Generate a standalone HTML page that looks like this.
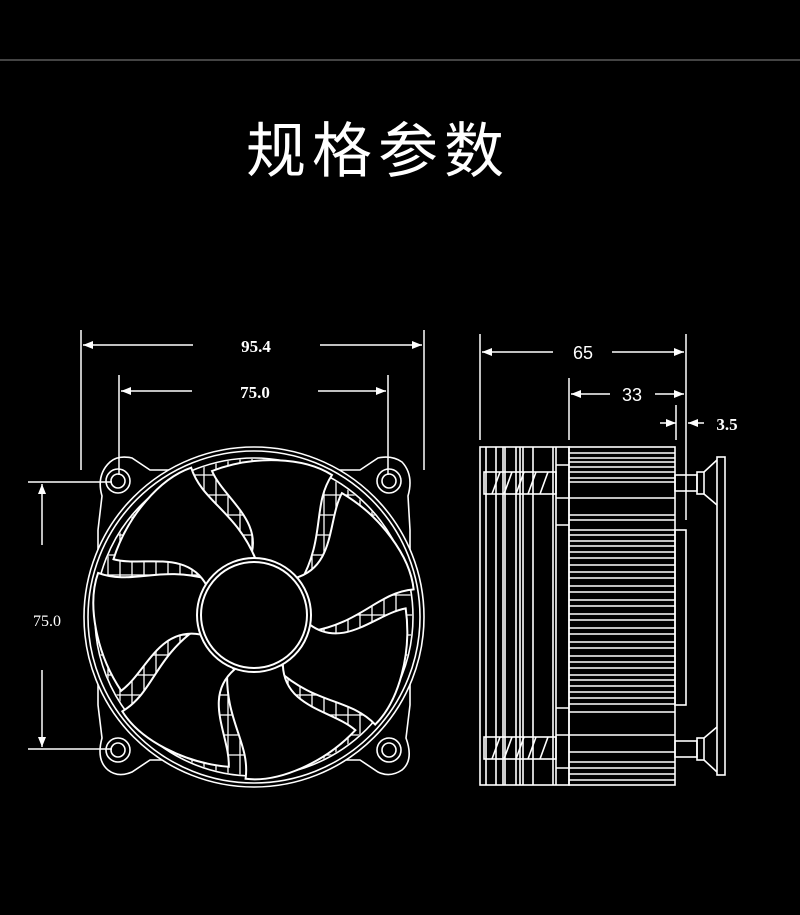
<!DOCTYPE html>
<html><head><meta charset="utf-8"><style>
html,body{margin:0;padding:0;background:#000;}
body{width:800px;height:910px;overflow:hidden;}
</style></head><body>
<svg width="800" height="910" viewBox="0 0 800 910" xmlns="http://www.w3.org/2000/svg">
<rect width="800" height="910" fill="#000"/>
<line x1="0" y1="60" x2="800" y2="60" stroke="#888" stroke-width="1"/>
<text x="378" y="172" fill="#fff" font-size="60" text-anchor="middle" font-family="'Noto Sans CJK SC','WenQuanYi Zen Hei',sans-serif" letter-spacing="6">规格参数</text>
<defs>
<marker id="ar" markerWidth="10" markerHeight="8" refX="10" refY="4" orient="auto-start-reverse" markerUnits="userSpaceOnUse"><path d="M0,0 L10,4 L0,8 Z" fill="#fff"/></marker>
<clipPath id="ann"><circle cx="254" cy="617" r="158"/></clipPath>
</defs>
<g stroke="#fff" stroke-width="1.5" fill="none">
<line x1="81" y1="330" x2="81" y2="470"/><line x1="424" y1="330" x2="424" y2="470"/>
<line x1="83" y1="345" x2="193" y2="345" marker-start="url(#ar)"/><line x1="320" y1="345" x2="422" y2="345" marker-end="url(#ar)"/>
<line x1="119" y1="375" x2="119" y2="475"/><line x1="388" y1="375" x2="388" y2="475"/>
<line x1="121" y1="391" x2="192" y2="391" marker-start="url(#ar)"/><line x1="318" y1="391" x2="386" y2="391" marker-end="url(#ar)"/>
<line x1="28" y1="482" x2="112" y2="482"/><line x1="28" y1="749" x2="112" y2="749"/>
<line x1="42" y1="484" x2="42" y2="545" marker-start="url(#ar)"/><line x1="42" y1="670" x2="42" y2="747" marker-end="url(#ar)"/>
<line x1="480" y1="334" x2="480" y2="440"/><line x1="686" y1="334" x2="686" y2="520"/>
<line x1="482" y1="352" x2="553" y2="352" marker-start="url(#ar)"/><line x1="612" y1="352" x2="684" y2="352" marker-end="url(#ar)"/>
<line x1="569" y1="378" x2="569" y2="440"/>
<line x1="571" y1="394" x2="610" y2="394" marker-start="url(#ar)"/><line x1="655" y1="394" x2="684" y2="394" marker-end="url(#ar)"/>
<line x1="676" y1="405" x2="676" y2="440"/>
<line x1="660" y1="423" x2="676" y2="423" marker-end="url(#ar)"/><line x1="704" y1="423" x2="688" y2="423" marker-end="url(#ar)"/>
</g>
<g fill="#fff" font-family="'Liberation Serif',serif" font-weight="bold" font-size="17" text-anchor="middle">
<text x="256" y="352">95.4</text><text x="255" y="398">75.0</text><text x="727" y="430">3.5</text>
</g>
<g fill="#fff" font-family="'Liberation Sans',sans-serif" font-size="18" text-anchor="middle">
<text x="583" y="359">65</text><text x="632" y="401">33</text>
</g>
<text x="47" y="626" fill="#fff" font-family="'Liberation Serif',serif" font-size="16" text-anchor="middle">75.0</text>

<g stroke="#fff" stroke-width="1.6" fill="none">
<path d="M110,462 Q118,455 132,458 L150,470 L360,470 L378,458 Q392,455 402,462 Q414,475 408,496 L410,530 L410,705 L406,738 Q414,760 402,770 Q390,778 378,772 L360,760 L150,760 L132,772 Q118,778 108,770 Q96,760 102,738 L98,705 L98,530 L102,496 Q96,475 110,462 Z"/>
<circle cx="118" cy="481" r="12"/><circle cx="118" cy="481" r="7"/>
<circle cx="389" cy="481" r="12"/><circle cx="389" cy="481" r="7"/>
<circle cx="118" cy="750" r="12"/><circle cx="118" cy="750" r="7"/>
<circle cx="389" cy="750" r="12"/><circle cx="389" cy="750" r="7"/>
<circle cx="254" cy="617" r="170" fill="#000"/><circle cx="254" cy="617" r="166"/><circle cx="254" cy="617" r="159"/>
<g clip-path="url(#ann)" stroke-width="1.3">
<path d="M108,450 V790 M120,450 V790 M132,450 V790 M144,450 V790 M156,450 V790 M168,450 V790 M180,450 V790 M192,450 V790 M204,450 V790 M216,450 V790 M228,450 V790 M240,450 V790 M252,450 V790 M264,450 V790 M276,450 V790 M288,450 V790 M300,450 V790 M312,450 V790 M324,450 V790 M336,450 V790 M348,450 V790 M360,450 V790 M372,450 V790 M384,450 V790 M396,450 V790"/>
<path d="M90,475 H420 M90,495 H420 M90,515 H420 M90,535 H420 M90,555 H420 M90,575 H420 M90,595 H420 M90,615 H420 M90,635 H420 M90,655 H420 M90,675 H420 M90,695 H420 M90,715 H420 M90,735 H420 M90,755 H420"/>
</g>
<g fill="#000" stroke-width="2">
<path id="bl" d="M-5,-56 C12,-95 -30,-118 -42,-146 C0,-162 50,-160 78,-142 C58,-112 72,-80 46,-34 Z" transform="translate(254,617)"/>
<use href="#bl" transform="rotate(51.4 254 617)"/>
<use href="#bl" transform="rotate(102.8 254 617)"/>
<use href="#bl" transform="rotate(154.2 254 617)"/>
<use href="#bl" transform="rotate(205.6 254 617)"/>
<use href="#bl" transform="rotate(257 254 617)"/>
<use href="#bl" transform="rotate(308.4 254 617)"/>
<circle cx="254" cy="615" r="57"/><circle cx="254" cy="615" r="53"/>
</g>
</g>

<g stroke="#fff" stroke-width="1.6" fill="none">
<rect x="480" y="447" width="89" height="338"/>
<path d="M486,447 V785 M496,447 V785 M503,447 V785 M505,447 V785 M516,447 V785 M520,447 V785 M523,447 V785 M533,447 V785 M553,447 V785 M556,447 V785"/>
<path d="M556,465 H569 M556,498 H569 M556,525 H569 M556,708 H569 M556,735 H569 M556,768 H569"/>
<rect x="484" y="472" width="72" height="22"/><rect x="484" y="737" width="72" height="22"/>
<path d="M492,494 L500,472 M504,494 L512,472 M516,494 L524,472 M528,494 L536,472 M540,494 L548,472 M492,759 L500,737 M504,759 L512,737 M516,759 L524,737 M528,759 L536,737 M540,759 L548,737"/>
<rect x="569" y="447" width="106" height="338"/>
<path d="M569,453 H675 M569,458 H675 M569,462 H675 M569,467 H675 M569,472 H675 M569,478 H675 M569,482 H675 M569,498 H675 M569,515 H675 M569,520 H675 M569,530 H675 M569,535 H675 M569,541 H675 M569,546 H675 M569,552 H675 M569,558 H675 M569,565 H675 M569,572 H675 M569,578 H675 M569,586 H675 M569,592 H675 M569,600 H675 M569,606 H675 M569,614 H675 M569,620 H675 M569,628 H675 M569,634 H675 M569,642 H675 M569,648 H675 M569,656 H675 M569,662 H675 M569,668 H675 M569,675 H675 M569,680 H675 M569,686 H675 M569,692 H675 M569,698 H675 M569,704 H675 M569,712 H675 M569,735 H675 M569,752 H675 M569,762 H675 M569,768 H675 M569,774 H675 M569,780 H675"/>
<rect x="675" y="530" width="11" height="175"/>
<rect x="675" y="475" width="22" height="16"/><rect x="697" y="472" width="7" height="22"/>
<path d="M704,472 L717,460 M704,494 L717,505"/>
<rect x="675" y="741" width="22" height="16"/><rect x="697" y="738" width="7" height="22"/>
<path d="M704,738 L717,727 M704,760 L717,772"/>
<rect x="717" y="457" width="8" height="318"/>
</g>
</svg>
</body></html>
